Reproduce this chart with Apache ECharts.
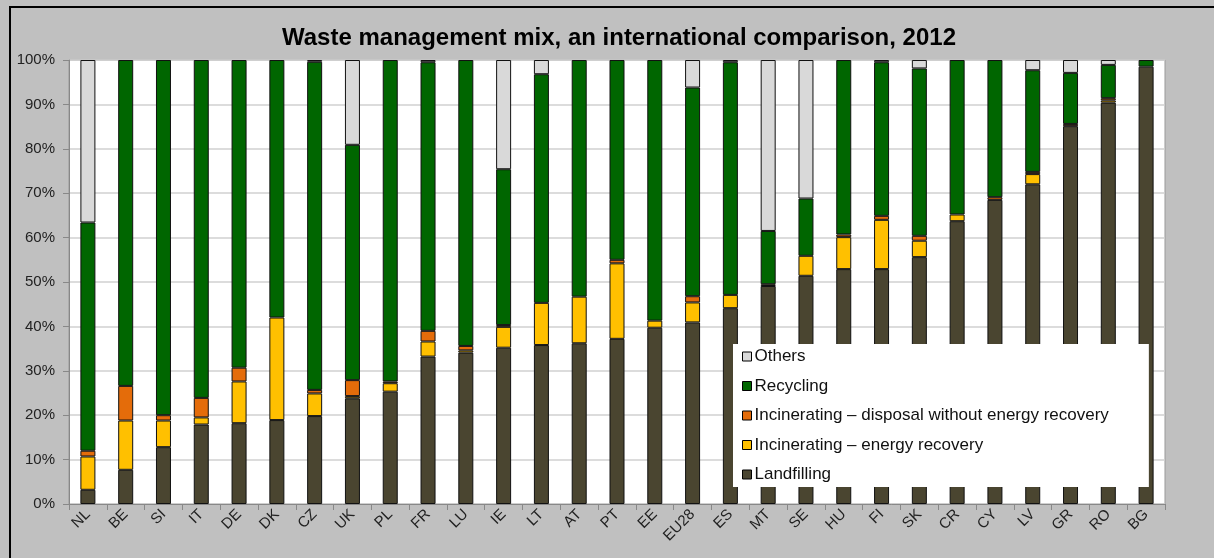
<!DOCTYPE html>
<html>
<head>
<meta charset="utf-8">
<script src="https://cdn.jsdelivr.net/npm/echarts@6/dist/echarts.min.js"></script>
<style>
html,body{margin:0;padding:0;background:#c0c0c0;}
#chart{width:1214px;height:558px;}
</style>
</head>
<body>
<div id="chart"></div>
<script>
const categories = ['NL','BE','SI','IT','DE','DK','CZ','UK','PL','FR','LU','IE','LT','AT','PT','EE','EU28','ES','MT','SE','HU','FI','SK','CR','CY','LV','GR','RO','BG'];
const landfilling = [3.2, 7.7, 12.8, 17.9, 18.2, 18.9, 19.8, 23.8, 25.3, 33.2, 34.1, 35.2, 35.8, 36.2, 37.2, 39.7, 40.9, 44.1, 49.1, 51.4, 52.9, 52.9, 55.6, 63.7, 68.5, 72.0, 85.1, 90.4, 98.5];
const energyRecovery = [7.5, 11.1, 6.0, 1.6, 9.4, 23.1, 5.1, 0.5, 1.9, 3.4, 0.5, 4.7, 9.5, 10.5, 17.0, 1.6, 4.5, 3.0, 0, 4.5, 7.2, 11.1, 3.7, 1.5, 0, 2.3, 0, 0.5, 0];
const disposal = [1.3, 7.8, 1.2, 4.4, 3.1, 0, 0.8, 3.6, 0.4, 2.4, 1.0, 0.4, 0, 0, 0.8, 0, 1.4, 0, 0.4, 0, 0.6, 0.9, 1.1, 0, 0.6, 0.5, 0.5, 0.5, 0];
const recycling = [51.4, 73.4, 80.0, 76.1, 69.3, 58.0, 73.9, 53.0, 72.4, 60.5, 64.4, 35.1, 51.5, 53.3, 45.0, 58.7, 47.0, 52.4, 12.0, 12.9, 39.3, 34.6, 37.7, 34.8, 30.9, 22.9, 11.5, 7.5, 1.5];
const others = [36.6, 0, 0, 0, 0, 0, 0.4, 19.1, 0, 0.5, 0, 24.6, 3.2, 0, 0, 0, 6.2, 0.5, 38.5, 31.2, 0, 0.5, 1.9, 0, 0, 2.3, 2.9, 1.1, 0];
const yTicks = [0,10,20,30,40,50,60,70,80,90,100];

const seriesDefs = [
  {name:'Landfilling', data:landfilling, color:'#4a4530'},
  {name:'Incinerating – energy recovery', data:energyRecovery, color:'#ffc000'},
  {name:'Incinerating – disposal without energy recovery', data:disposal, color:'#e46c0a'},
  {name:'Recycling', data:recycling, color:'#006600'},
  {name:'Others', data:others, color:'#d9d9d9'}
];

const chart = echarts.init(document.getElementById('chart'), null, {renderer:'canvas'});
const font = 'Liberation Sans, Arial, sans-serif';
chart.setOption({
  animation:false,
  backgroundColor:'#c0c0c0',
  graphic:[{
    type:'rect', z:-1, silent:true,
    shape:{x:10, y:7, width:1300, height:700},
    style:{fill:'none', stroke:'#000', lineWidth:2}
  }],
  title:{
    text:'Waste management mix, an international comparison, 2012',
    left:614, top:21, textAlign:'center',
    textStyle:{fontFamily:font, fontSize:24, fontWeight:'bold', color:'#000'}
  },
  legend:{
    orient:'vertical', left:733, top:344,
    backgroundColor:'#fff',
    padding:[4, 40, 4, 9],
    itemGap:12.5,
    itemWidth:9, itemHeight:9,
    icon:'rect',
    data:['Others','Recycling','Incinerating – disposal without energy recovery','Incinerating – energy recovery','Landfilling'],
    textStyle:{fontFamily:font, fontSize:17, color:'#111', padding:[0,0,0,-2]},
    itemStyle:{borderColor:'#000', borderWidth:1}
  },
  grid:{
    left:69, top:60, right:49, bottom:54,
    show:true, backgroundColor:'#fff', borderColor:'#999', borderWidth:1
  },
  xAxis:{
    type:'category', data:categories,
    axisLine:{lineStyle:{color:'#888', width:1}},
    axisTick:{show:true, length:6, lineStyle:{color:'#888'}},
    axisLabel:{interval:0, rotate:45, fontFamily:font, fontSize:15, color:'#222', margin:8}
  },
  yAxis:{
    type:'value', min:yTicks[0], max:yTicks[yTicks.length-1], interval:10,
    axisLine:{show:true, lineStyle:{color:'#888'}},
    axisTick:{show:true, length:6, lineStyle:{color:'#888'}},
    splitLine:{lineStyle:{color:'#d0d0d0', width:1.5}},
    axisLabel:{formatter:'{value}%', fontFamily:font, fontSize:15, color:'#222', margin:14}
  },
  series: seriesDefs.map(s => ({
    name:s.name, type:'bar', stack:'total', barWidth:15,
    data:s.data.map(v => v === 0 ? null : v),
    itemStyle:{color:s.color, borderColor:'#111', borderWidth:1}
  }))
});
</script>
</body>
</html>
